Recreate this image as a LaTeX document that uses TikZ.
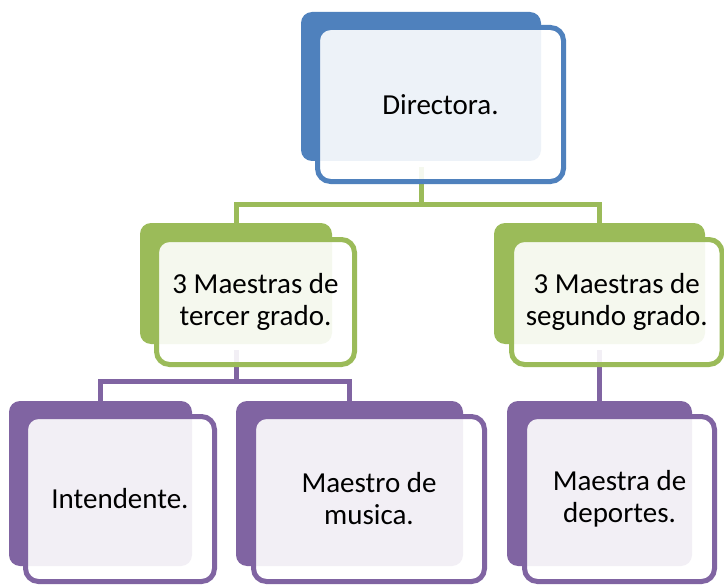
\documentclass[tikz,border=0pt]{standalone}
\usepackage{fontspec}
\setmainfont{Carlito}
\definecolor{cblue}{HTML}{4F81BD}
\definecolor{cgreen}{HTML}{9BBB59}
\definecolor{cpurple}{HTML}{8064A2}
\begin{document}
\begin{tikzpicture}[x=1pt,y=-1pt,
  backbox/.style={rectangle, rounded corners=11pt, inner sep=0pt, outer sep=0pt, fill=#1},
  frontbox/.style={rectangle, rounded corners=13pt, inner sep=0pt, outer sep=0pt, draw=#1, line width=5pt,
     fill=white, fill opacity=0.9, text opacity=1, align=center,
     font=\fontsize{29pt}{32pt}\selectfont},
  conn/.style={draw=#1, line width=5pt},
]
\useasboundingbox (0,0) rectangle (724,586);
\fill[white] (0,0) rectangle (724,586);

% back boxes
\node[backbox=cblue, minimum width=240pt, minimum height=149pt] (dirB) at (421,86.5) {};
\node[backbox=cgreen, minimum width=192pt, minimum height=121pt] (terB) at (236,283.5) {};
\node[backbox=cgreen, minimum width=211pt, minimum height=121pt] (segB) at (599.5,283.5) {};
\node[backbox=cpurple, minimum width=183pt, minimum height=165pt] (intB) at (100.5,483.5) {};
\node[backbox=cpurple, minimum width=227pt, minimum height=165pt] (musB) at (349.5,483.5) {};
\node[backbox=cpurple, minimum width=185pt, minimum height=165pt] (depB) at (599.5,483.5) {};

% connectors
\coordinate (busG) at (421,204.5);
\coordinate (busP) at (236,381.5);
\draw[conn=cgreen, shorten <=6pt] (dirB.south) -- (busG);
\draw[conn=cgreen] (busG) -| (terB.north);
\draw[conn=cgreen] (busG) -| (segB.north);
\draw[conn=cpurple, shorten <=6pt] (terB.south) -- (busP);
\draw[conn=cpurple] (busP) -| (intB.north);
\draw[conn=cpurple] (busP) -| (musB.north);
\draw[conn=cpurple, shorten <=6pt] (segB.south) -- (depB.north);

% front boxes with text
\node[frontbox=cblue, minimum width=246pt, minimum height=154pt] (dir) at (440.5,104.5) {Directora.};
\node[frontbox=cgreen, minimum width=198pt, minimum height=125pt] (ter) at (255.5,302) {3 Maestras de\\tercer grado.};
\node[frontbox=cgreen, minimum width=210.5pt, minimum height=125pt] (seg) at (616.75,302) {3 Maestras de\\segundo grado.};
\node[frontbox=cpurple, minimum width=189pt, minimum height=165pt] (int) at (120,499) {Intendente.};
\node[frontbox=cpurple, minimum width=231pt, minimum height=165pt] (mus) at (369,499) {Maestro de\\musica.};
\node[frontbox=cpurple, minimum width=190pt, minimum height=165pt] (dep) at (619.5,499) {Maestra de\\deportes.};
\end{tikzpicture}
\end{document}
